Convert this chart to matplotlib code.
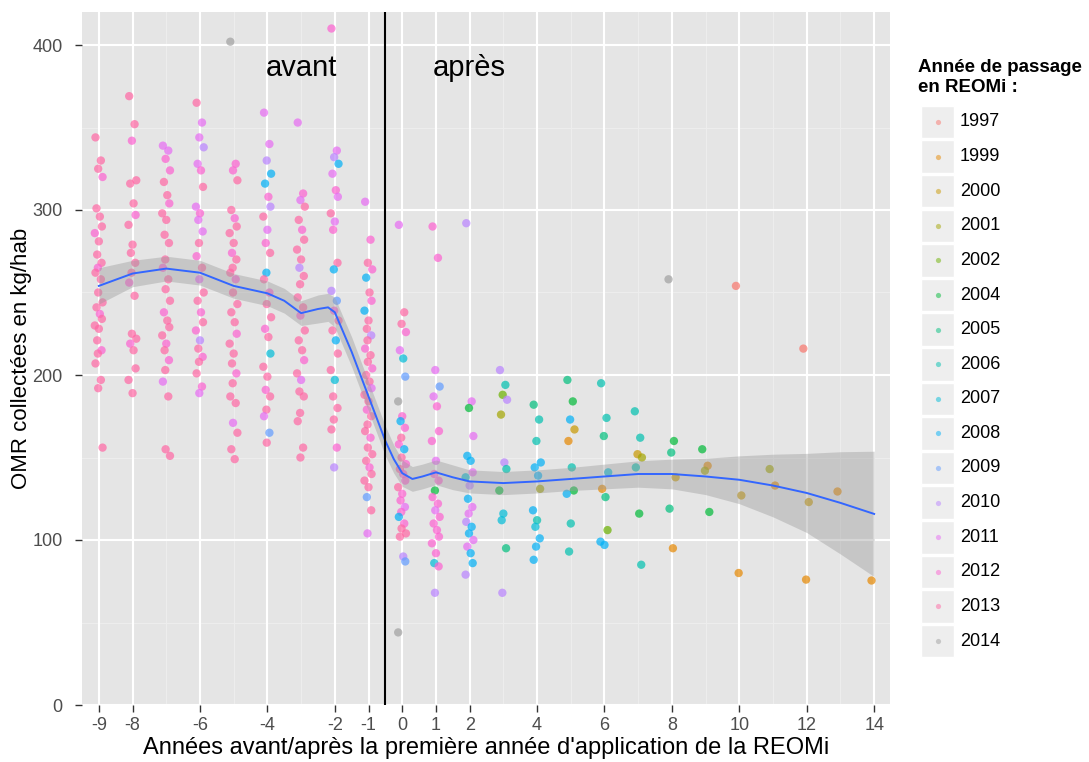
import matplotlib
matplotlib.use("Agg")
import matplotlib.pyplot as plt
from matplotlib.patches import Rectangle

plt.rcParams['font.family'] = ['Liberation Sans', 'DejaVu Sans']

# Année de passage -> couleur (palette hue de ggplot, 2014 en gris)
passage_years = [1997, 1999, 2000, 2001, 2002, 2004, 2005, 2006, 2007,
                 2008, 2009, 2010, 2011, 2012, 2013, 2014]
passage_colors = ['#F8766D', '#E58700', '#C99800', '#A3A500', '#6BB100',
                  '#00BA38', '#00BF7D', '#00C0AF', '#00BCD8', '#00B0F6',
                  '#619CFF', '#B983FF', '#E76BF3', '#FD61D1', '#FF67A4',
                  '#A0A0A0']

# OMR (kg/hab) par année relative : (valeur, année de passage)
col_m9 = [(344, 2013), (330, 2013), (325, 2013), (320, 2012), (301, 2013), (296, 2013),
          (290, 2013), (286, 2012), (281, 2013), (273, 2013), (268, 2013), (265, 2012),
          (262, 2013), (258, 2013), (250, 2013), (244, 2013), (241, 2013), (237, 2012),
          (234, 2013), (230, 2013), (228, 2013), (221, 2013), (215, 2012), (213, 2013),
          (207, 2013), (197, 2013), (192, 2013), (156, 2013)]
col_m8 = [(369, 2013), (352, 2013), (342, 2012), (318, 2013), (316, 2013), (304, 2013),
          (297, 2012), (291, 2013), (279, 2013), (274, 2013), (268, 2013), (262, 2013),
          (256, 2012), (248, 2013), (225, 2013), (222, 2013), (219, 2012), (215, 2013),
          (204, 2013), (197, 2013), (189, 2013)]
col_m7 = [(339, 2011), (336, 2011), (331, 2012), (324, 2012), (317, 2013), (309, 2013),
          (304, 2012), (298, 2013), (294, 2013), (285, 2013), (280, 2013), (270, 2013),
          (265, 2012), (258, 2013), (252, 2013), (245, 2013), (238, 2012), (233, 2013),
          (229, 2013), (224, 2013), (219, 2012), (215, 2013), (209, 2012), (203, 2013),
          (196, 2011), (187, 2013), (155, 2013), (151, 2013)]
col_m6 = [(365, 2013), (353, 2011), (344, 2011), (338, 2010), (328, 2011), (324, 2012),
          (314, 2013), (302, 2011), (298, 2012), (294, 2011), (287, 2011), (280, 2013),
          (272, 2012), (265, 2013), (258, 2011), (250, 2013), (245, 2013), (238, 2012),
          (232, 2013), (227, 2012), (221, 2010), (216, 2013), (211, 2012), (208, 2013),
          (201, 2013), (193, 2012), (189, 2011)]
col_m5 = [(402, 2014), (328, 2012), (324, 2012), (318, 2013), (300, 2013), (295, 2012),
          (290, 2013), (286, 2013), (280, 2013), (274, 2012), (270, 2013), (265, 2013),
          (262, 2013), (258, 2012), (250, 2013), (243, 2013), (238, 2013), (232, 2013),
          (225, 2012), (219, 2013), (213, 2013), (207, 2013), (201, 2012), (195, 2013),
          (187, 2013), (183, 2013), (171, 2011), (165, 2013), (155, 2013), (149, 2013)]
col_m4 = [(359, 2011), (340, 2011), (330, 2010), (322, 2008), (316, 2008), (308, 2012),
          (302, 2010), (296, 2013), (288, 2011), (280, 2012), (274, 2013), (262, 2008),
          (258, 2013), (250, 2012), (243, 2013), (235, 2013), (228, 2012), (223, 2013),
          (213, 2007), (205, 2013), (199, 2013), (191, 2012), (187, 2013), (179, 2013),
          (175, 2011), (165, 2009), (159, 2013)]
col_m3 = [(353, 2011), (310, 2012), (306, 2011), (302, 2013), (294, 2013), (288, 2012),
          (282, 2013), (276, 2013), (270, 2013), (265, 2010), (260, 2013), (255, 2013),
          (247, 2013), (241, 2013), (236, 2012), (227, 2013), (221, 2013), (215, 2013),
          (209, 2012), (201, 2013), (197, 2011), (190, 2013), (187, 2013), (177, 2013),
          (172, 2013), (156, 2013), (150, 2013)]
col_m2 = [(410, 2012), (336, 2011), (332, 2010), (328, 2008), (322, 2011), (312, 2012),
          (308, 2011), (298, 2013), (293, 2011), (288, 2012), (268, 2013), (264, 2008),
          (251, 2010), (245, 2009), (239, 2012), (233, 2013), (227, 2013), (221, 2008),
          (213, 2013), (203, 2013), (197, 2007), (187, 2013), (180, 2013), (173, 2013),
          (167, 2013), (156, 2012), (144, 2010)]
col_m1 = [(305, 2011), (282, 2012), (268, 2013), (264, 2012), (259, 2008), (250, 2013),
          (245, 2012), (239, 2008), (233, 2013), (228, 2013), (224, 2010), (221, 2013),
          (216, 2012), (212, 2013), (208, 2013), (204, 2012), (200, 2013), (196, 2013),
          (192, 2011), (188, 2013), (184, 2013), (179, 2012), (175, 2013), (170, 2013),
          (166, 2013), (162, 2012), (156, 2013), (152, 2013), (148, 2013), (144, 2012),
          (140, 2013), (136, 2013), (132, 2013), (126, 2009), (118, 2013), (104, 2011)]
col_0 = [(291, 2011), (238, 2013), (231, 2013), (226, 2012), (215, 2011), (210, 2007),
         (199, 2009), (184, 2014), (175, 2012), (172, 2008), (168, 2012), (162, 2013),
         (158, 2012), (155, 2008), (150, 2013), (146, 2012), (143, 2013), (140, 2012),
         (136, 2012), (132, 2013), (128, 2012), (124, 2012), (120, 2011), (117, 2012),
         (114, 2008), (110, 2012), (107, 2013), (104, 2013), (102, 2013), (90, 2010),
         (87, 2009), (44, 2014)]
col_p1 = [(290, 2012), (271, 2012), (203, 2011), (193, 2009), (187, 2011), (181, 2012),
          (166, 2012), (160, 2012), (148, 2011), (140, 2012), (136, 2012), (130, 2004),
          (126, 2012), (122, 2012), (118, 2011), (114, 2012), (110, 2012), (106, 2012),
          (102, 2012), (98, 2012), (92, 2012), (86, 2007), (84, 2012), (68, 2010)]
col_p2 = [(292, 2010), (184, 2011), (180, 2004), (163, 2011), (151, 2008), (148, 2008),
          (141, 2011), (138, 2007), (133, 2010), (125, 2008), (120, 2011), (116, 2011),
          (111, 2010), (108, 2008), (104, 2008), (100, 2011), (96, 2011), (92, 2008),
          (86, 2008), (79, 2010)]
col_p3 = [(203, 2010), (194, 2006), (188, 2002), (185, 2010), (176, 2001), (147, 2010),
          (143, 2006), (130, 2004), (116, 2007), (112, 2007), (95, 2005), (68, 2010)]
col_p4 = [(182, 2005), (173, 2006), (160, 2006), (147, 2008), (144, 2008), (139, 2008),
          (131, 2001), (118, 2008), (112, 2006), (108, 2007), (101, 2008), (96, 2008),
          (88, 2008)]
col_p5 = [(197, 2005), (184, 2004), (173, 2008), (167, 2000), (160, 1999), (144, 2006),
          (130, 2004), (128, 2008), (110, 2006), (93, 2006)]
col_p6 = [(195, 2006), (174, 2006), (163, 2005), (141, 2007), (131, 1999), (126, 2005),
          (106, 2002), (99, 2008), (97, 2008)]
col_p7 = [(178, 2006), (162, 2006), (152, 2000), (150, 2001), (144, 2006), (116, 2004),
          (85, 2006)]
col_p8 = [(258, 2014), (160, 2004), (153, 2005), (138, 2000), (119, 2005), (95, 1999)]
col_p9 = [(155, 2004), (145, 1999), (142, 2001), (117, 2004)]
col_p10 = [(254, 1997), (127, 2000), (80, 1999)]
col_p11 = [(143, 2001), (133, 1999)]
col_p12 = [(216, 1997), (123, 2000), (76, 1999)]
col_p13 = [(130, 1999)]
col_p14 = [(76, 1999)]

columns = [(-9, col_m9), (-8, col_m8), (-7, col_m7), (-6, col_m6), (-5, col_m5),
           (-4, col_m4), (-3, col_m3), (-2, col_m2), (-1, col_m1), (0, col_0),
           (1, col_p1), (2, col_p2), (3, col_p3), (4, col_p4), (5, col_p5),
           (6, col_p6), (7, col_p7), (8, col_p8), (9, col_p9), (10, col_p10),
           (11, col_p11), (12, col_p12), (13, col_p13), (14, col_p14)]

# Courbe lissée (loess) et intervalle de confiance
smooth_x = [-9, -8, -7, -6, -5, -4, -3.5, -3.0, -2.5, -2.2, -2.0, -1.5, -1.0,
            -0.5, -0.25, 0, 0.3, 0.6, 1.0, 1.5, 2, 3, 4, 5, 6, 7, 8, 9, 10, 11,
            12, 13, 14]
smooth_y = [254, 261.5, 264.5, 262, 254, 249.5, 245, 237.5, 240, 241, 238, 214,
            187, 160, 149, 140.5, 137, 138.5, 141, 138, 135.5, 134.5, 135.5, 137,
            138.5, 140, 140, 138.5, 136.5, 133, 128.5, 122.5, 115.8]
smooth_se = [11, 8, 7.5, 7.5, 7.5, 7.5, 7.5, 7.5, 8.5, 8.5, 9, 9, 9, 9, 8.5, 8,
             7.5, 7.5, 7.5, 7.5, 7, 7, 7, 7, 7.5, 8, 9, 11, 14.5, 19, 24, 31, 38]

xtick_pos = [-9, -8, -6, -4, -2, -1, 0, 1, 2, 4, 6, 8, 10, 12, 14]
ytick_pos = [0, 100, 200, 300, 400]

fig = plt.figure(figsize=(10.89, 7.62), dpi=100)
ax = fig.add_axes([82 / 1089, 1 - 705 / 762, (890 - 82) / 1089, (705 - 12) / 762])
ax.set_facecolor('#E5E5E5')

# grille mineure puis majeure
for xm in [-7, -5, -3, 3, 5, 7, 9, 11, 13]:
    ax.axvline(xm, color='#EDEDED', lw=0.8, zorder=0)
for ym in [50, 150, 250, 350]:
    ax.axhline(ym, color='#EDEDED', lw=0.8, zorder=0)
for xm in xtick_pos:
    ax.axvline(xm, color='white', lw=1.5, zorder=0.5)
for ym in ytick_pos:
    ax.axhline(ym, color='white', lw=1.5, zorder=0.5)

# points avec un léger décalage horizontal (jitter fixe)
jit = [-0.10, 0.06, -0.02, 0.11, -0.07, 0.03, 0.09, -0.12, 0.0, -0.05, 0.08, -0.03]
color_of = dict(zip(passage_years, passage_colors))
for rel, pts in columns:
    xs = [rel + jit[i % len(jit)] for i in range(len(pts))]
    ys = [v for v, _ in pts]
    cs = [color_of[yr] for _, yr in pts]
    ax.scatter(xs, ys, s=36, c=cs, alpha=0.7, linewidths=0, zorder=2)

lo = [y - e for y, e in zip(smooth_y, smooth_se)]
hi = [y + e for y, e in zip(smooth_y, smooth_se)]
ax.fill_between(smooth_x, lo, hi, color='#999999', alpha=0.4, lw=0, zorder=3)
ax.plot(smooth_x, smooth_y, color='#3366FF', lw=1.4, zorder=4)

ax.axvline(-0.5, color='black', lw=1.5, zorder=5)
ax.text(-3.0, 386, 'avant', fontsize=21, ha='center', va='center', zorder=6)
ax.text(2.0, 386, 'après', fontsize=21, ha='center', va='center', zorder=6)

ax.set_xlim(-9.5, 14.47)
ax.set_ylim(0, 420)
ax.set_xticks(xtick_pos)
ax.set_xticklabels([str(v) for v in xtick_pos])
ax.set_yticks(ytick_pos)
for sp in ax.spines.values():
    sp.set_visible(False)
ax.tick_params(colors='#333333', labelcolor='#4D4D4D', labelsize=13,
               length=5, width=1)
ax.tick_params(axis='y', pad=9)
ax.set_xlabel("Années avant/après la première année d'application de la REOMi",
              fontsize=17, labelpad=2)
ax.set_ylabel('OMR collectées en kg/hab', fontsize=16, labelpad=0)
ax.yaxis.set_label_coords(-50 / 808, 0.5)

# légende dessinée à la main, en pixels
lax = fig.add_axes([0, 0, 1, 1])
lax.set_xlim(0, 1089)
lax.set_ylim(762, 0)
lax.axis('off')
lax.text(918, 68, 'Année de passage', fontsize=13.5, fontweight='bold', va='center')
lax.text(918, 88, 'en REOMi :', fontsize=13.5, fontweight='bold', va='center')
row_h = 34.6
for i, (yr, col) in enumerate(zip(passage_years, passage_colors)):
    yc = 122 + i * row_h
    lax.add_patch(Rectangle((921, yc - row_h / 2 + 1), 33, row_h - 2,
                            facecolor='#EEEEEE', edgecolor='white', lw=1))
    lax.scatter([937.5], [yc], s=14, color=col, alpha=0.5, linewidths=0)
    lax.text(960, yc, str(yr), fontsize=13, va='center', color='black')

fig.savefig('out.png', dpi=100)
